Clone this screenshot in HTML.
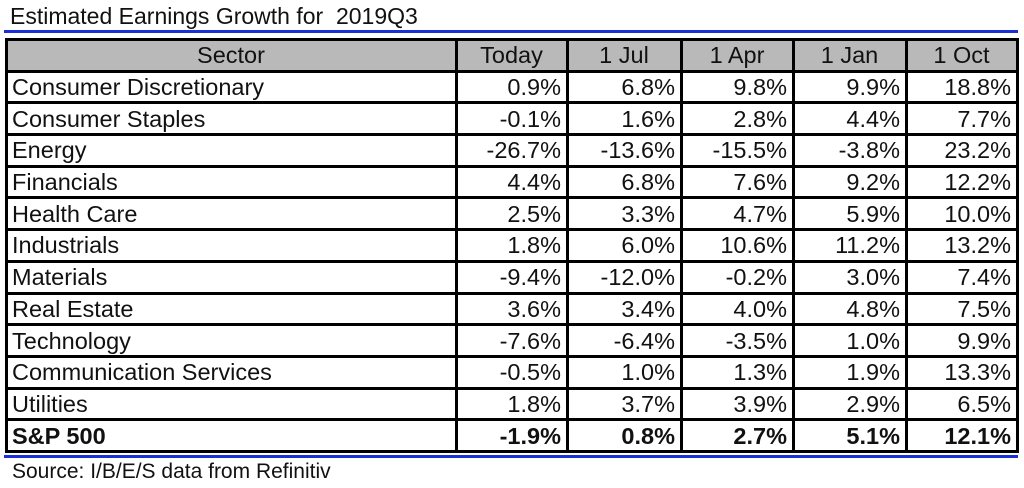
<!DOCTYPE html>
<html><head><meta charset="utf-8"><style>
body{margin:0;width:1024px;height:488px;overflow:hidden;background:#fff;font-family:"Liberation Sans",Arial,sans-serif;position:relative}
.t{position:absolute;left:10px;top:0;font-size:23px;line-height:32px;color:#111}
.blue{position:absolute;left:4px;width:1014px;height:3px;background:#1a2fd6}
table{position:absolute;left:5px;top:38px;border-collapse:collapse;table-layout:fixed}
tr{height:31.7px}
td{border:3px solid #000;height:28px;padding:0 5px 0 4px;font-size:23.5px;line-height:28px;color:#111;white-space:nowrap;overflow:hidden}
td.n{text-align:right}
tr.h td{background:#b9b9b9;text-align:center}
tr.b td{font-weight:bold}
.src{position:absolute;left:12px;top:460px;font-size:21px;color:#111}
</style></head><body>
<div class="t">Estimated Earnings Growth for&nbsp; 2019Q3</div>
<div class="blue" style="top:30px"></div>
<table>
<colgroup><col style="width:450px"><col style="width:111px"><col style="width:114px"><col style="width:112px"><col style="width:113px"><col style="width:111px"></colgroup>
<tbody id="tb"></tbody></table>
<div class="blue" style="top:455px"></div>
<div class="src">Source: I/B/E/S data from Refinitiv</div>
<script>
const headers=["Sector","Today","1 Jul","1 Apr","1 Jan","1 Oct"];
const sectors=["Consumer Discretionary","Consumer Staples","Energy","Financials","Health Care","Industrials","Materials","Real Estate","Technology","Communication Services","Utilities","S&P 500"];
const today=["0.9%","-0.1%","-26.7%","4.4%","2.5%","1.8%","-9.4%","3.6%","-7.6%","-0.5%","1.8%","-1.9%"];
const jul=["6.8%","1.6%","-13.6%","6.8%","3.3%","6.0%","-12.0%","3.4%","-6.4%","1.0%","3.7%","0.8%"];
const apr=["9.8%","2.8%","-15.5%","7.6%","4.7%","10.6%","-0.2%","4.0%","-3.5%","1.3%","3.9%","2.7%"];
const jan=["9.9%","4.4%","-3.8%","9.2%","5.9%","11.2%","3.0%","4.8%","1.0%","1.9%","2.9%","5.1%"];
const oct=["18.8%","7.7%","23.2%","12.2%","10.0%","13.2%","7.4%","7.5%","9.9%","13.3%","6.5%","12.1%"];
const tb=document.getElementById('tb');
const hr=document.createElement('tr');hr.className='h';


headers.forEach(h=>{const c=document.createElement('td');c.textContent=h;


hr.appendChild(c);});
tb.appendChild(hr);
sectors.forEach((s,i)=>{const r=document.createElement('tr');if(i==sectors.length-1)r.className='b';


[s,today[i],jul[i],apr[i],jan[i],oct[i]].forEach((v,j)=>{const c=document.createElement('td');c.textContent=v;if(j>0)c.className='n';


r.appendChild(c);});
tb.appendChild(r);});
</script>
</body></html>
